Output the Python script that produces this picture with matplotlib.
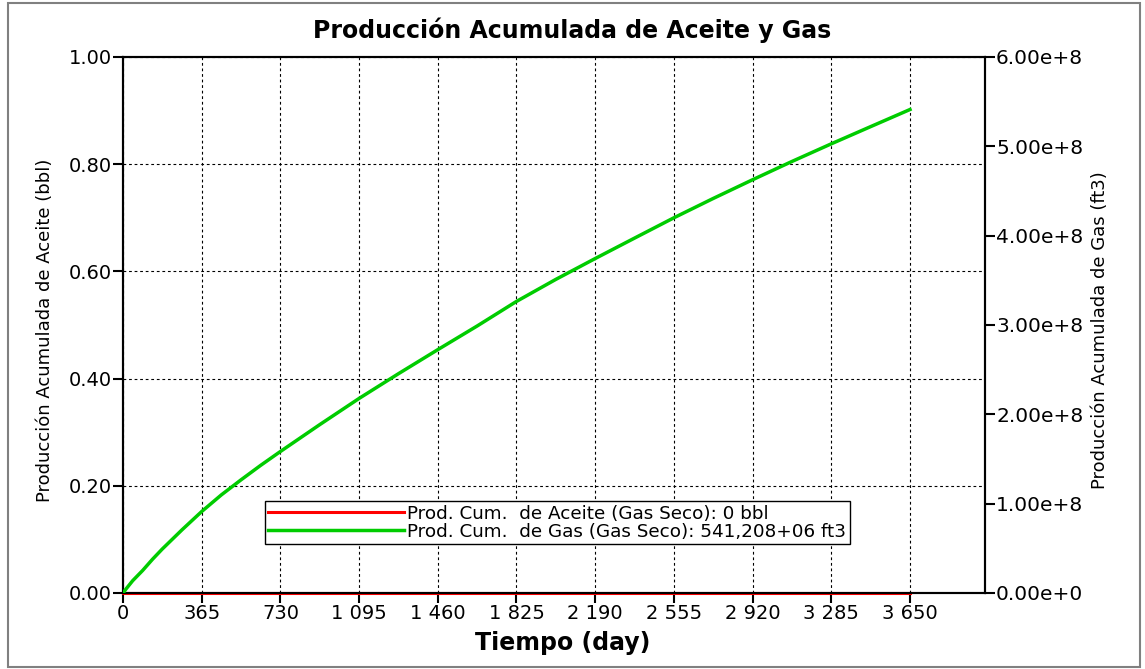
import numpy as np
import matplotlib
matplotlib.use("Agg")
import matplotlib.pyplot as plt
from matplotlib.ticker import FuncFormatter, MultipleLocator
from matplotlib.patches import Rectangle

plt.rcParams['font.family'] = ['DejaVu Sans']

# days since start of production
dias = [0, 15, 45, 91, 137, 182, 274, 365, 456, 547, 638, 730, 912, 1095,
        1277, 1460, 1642, 1825, 2007, 2190, 2372, 2555, 2737, 2920, 3102,
        3285, 3467, 3650]
# cumulative dry gas (ft3)
gas_ft3 = [0, 4.8e6, 13.8e6, 25.2e6, 37.8e6, 49.2e6, 70.8e6, 91.2e6,
           109.8e6, 126.6e6, 142.8e6, 158.4e6, 188.4e6, 217.8e6, 245.4e6,
           272.4e6, 298.8e6, 326.4e6, 351.0e6, 374.4e6, 397.2e6, 420.0e6,
           441.6e6, 462.6e6, 483.0e6, 502.8e6, 522.0e6, 541.208e6]
# cumulative oil (bbl)
dias_aceite = [0, 3650]
aceite_bbl = [0, 0]

label_aceite = "Prod. Cum.  de Aceite (Gas Seco): 0 bbl"
label_gas = "Prod. Cum.  de Gas (Gas Seco): 541,208+06 ft3"

W, H = 1145, 669
fig = plt.figure(figsize=(W / 100, H / 100), dpi=100)
ax = fig.add_axes([123 / W, 1 - 593 / H, (985 - 123) / W, (593 - 57) / H])
ax2 = ax.twinx()

ax.set_xlim(0, 3998)
ax.set_ylim(0, 1.0)
ax2.set_ylim(0, 6e8)

l1, = ax.plot(dias_aceite, aceite_bbl, color="#ff0000", lw=2.2, zorder=5,
              clip_on=False)
l2, = ax2.plot(dias, gas_ft3, color="#00cc00", lw=2.5, zorder=4)

ax.xaxis.set_major_locator(plt.FixedLocator(np.arange(0, 3651, 365)))
ax.yaxis.set_major_locator(MultipleLocator(0.2))
ax2.yaxis.set_major_locator(MultipleLocator(1e8))


def miles(v, pos):
    return f"{int(round(v)):,}".replace(",", " ")


def cientifico(v, pos):
    if v == 0:
        return "0.00e+0"
    exp = int(np.floor(np.log10(abs(v))))
    return f"{v / 10**exp:.2f}e+{exp}"


ax.xaxis.set_major_formatter(FuncFormatter(miles))
ax.yaxis.set_major_formatter(FuncFormatter(lambda v, p: f"{v:.2f}"))
ax2.yaxis.set_major_formatter(FuncFormatter(cientifico))

ax.grid(True, color="black", linestyle=(0, (2.5, 2.5)), linewidth=0.8)
ax.set_axisbelow(True)

for a in (ax, ax2):
    a.tick_params(direction="out", length=7, width=1.5, labelsize=14,
                  colors="black", pad=1)
    for s in a.spines.values():
        s.set_linewidth(1.5)
ax2.tick_params(labelsize=14.5)

fig.text(0.5, 1 - 30 / H, "Producción Acumulada de Aceite y Gas",
         fontsize=17, fontweight="bold", ha="center", va="center")
ax.set_xlabel("Tiempo (day)", fontsize=17, fontweight="bold")
ax.xaxis.set_label_coords(0.5095, -(643 - 593) / (593 - 57))
ax.xaxis.label.set_va("center")
ax.set_ylabel("Producción Acumulada de Aceite (bbl)", fontsize=13)
ax.yaxis.set_label_coords(-(123 - 45) / (985 - 123), 0.49)
ax.yaxis.label.set_va("center")
ax2.set_ylabel("Producción Acumulada de Gas (ft3)", fontsize=13)
ax2.yaxis.set_label_coords(1 + (1100 - 985) / (985 - 123), 0.49)
ax2.yaxis.label.set_va("center")

leg = ax2.legend([l1, l2], [label_aceite, label_gas],
                 loc="lower left", bbox_to_anchor=(0.1645, 0.091),
                 fontsize=13.2, frameon=True, fancybox=False,
                 edgecolor="black", framealpha=1, handlelength=7.4,
                 handletextpad=0.15, labelspacing=0.0, borderpad=0.2,
                 borderaxespad=0)
leg.get_frame().set_linewidth(1.0)

# outer frame of the figure
fig.add_artist(Rectangle((8 / W, 1 - 667 / H), (1140 - 8) / W, (667 - 3) / H,
                         transform=fig.transFigure, fill=False,
                         edgecolor="#808080", linewidth=1.5))

fig.savefig("out.png", dpi=100)
